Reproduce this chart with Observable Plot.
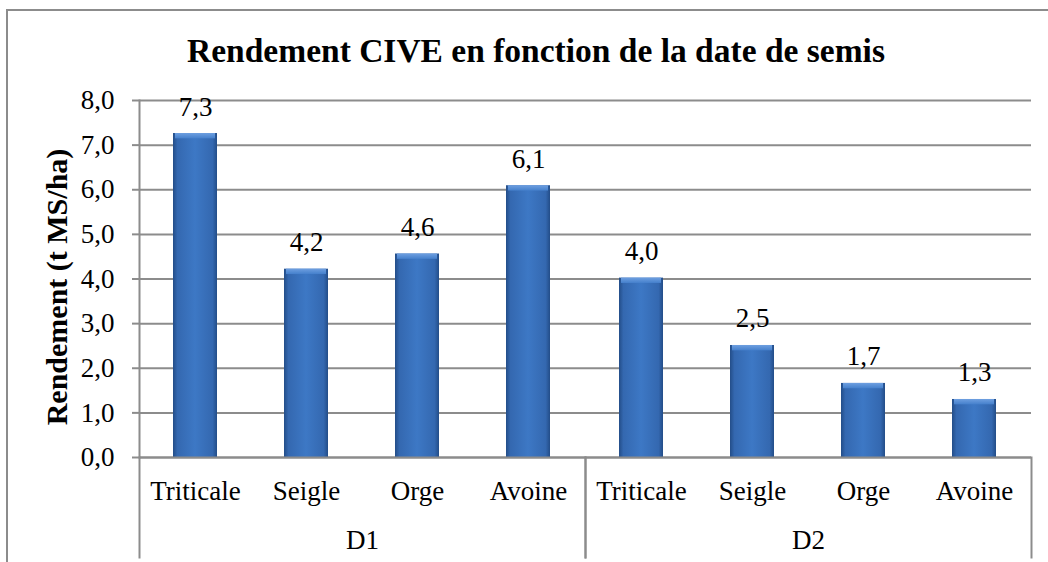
<!DOCTYPE html>
<html><head><meta charset="utf-8">
<script src="https://cdn.jsdelivr.net/npm/d3@7"></script>
<script src="https://cdn.jsdelivr.net/npm/@observablehq/plot@0.6"></script>
<style>
html,body{margin:0;padding:0;background:#fff;overflow:hidden;width:1048px;height:562px}
#wrap{position:relative;width:1048px;height:562px;overflow:hidden}
#border{position:absolute;left:6px;top:9px;width:1080px;height:620px;border:2px solid #8c8c8c;box-sizing:border-box}
#title{position:absolute;left:0;top:31px;width:1072px;text-align:center;font:bold 33.5px "Liberation Serif",serif;line-height:40px;white-space:nowrap;color:#000}
#ylabel{position:absolute;left:57px;top:287px;transform:translate(-50%,-50%) rotate(-90deg);font:bold 30px "Liberation Serif",serif;line-height:34px;white-space:nowrap;color:#000}
#chart{position:absolute;left:0;top:0}
</style></head><body>
<div id="wrap">
  <div id="border"></div>
  <div id="title">Rendement CIVE en fonction de la date de semis</div>
  <div id="ylabel">Rendement (t MS/ha)</div>
  <div id="chart"></div>
</div>
<script>
const groupNames = ["D1", "D2"];
const cropNames = ["Triticale", "Seigle", "Orge", "Avoine"];
const groups = ["D1", "D1", "D1", "D1", "D2", "D2", "D2", "D2"];
const crops = ["Triticale", "Seigle", "Orge", "Avoine", "Triticale", "Seigle", "Orge", "Avoine"];
const yields = [7.26, 4.22, 4.56, 6.09, 4.02, 2.51, 1.66, 1.30];
const yTicks = [0, 1, 2, 3, 4, 5, 6, 7, 8];

const data = crops.map((c, i) => ({group: groups[i], crop: c, value: yields[i]}));
const fmt = d => d.toFixed(1).replace(".", ",");
const grid = "#8c8c8c";

const plot = Plot.plot({
  width: 1048, height: 562,
  marginTop: 100, marginBottom: 105, marginLeft: 138, marginRight: 17,
  style: {fontFamily: '"Liberation Serif", serif', fontSize: "27px", color: "#000", background: "transparent", overflow: "visible"},
  fx: {domain: groupNames, padding: 0, label: null},
  x: {domain: cropNames, paddingInner: 0.6, paddingOuter: 0.3, label: null},
  y: {domain: [0, 8], label: null},
  marks: [
    Plot.gridY(yTicks, {stroke: grid, strokeOpacity: 1, strokeWidth: 2}),
    Plot.axisY(yTicks, {tickSize: 7, tickPadding: 18, tickFormat: fmt, stroke: grid, strokeWidth: 2, label: null}),
    Plot.axisX({tickSize: 0, tickPadding: 23, label: null}),
    Plot.axisFx({anchor: "bottom", tickSize: 0, tickPadding: 72, label: null}),
    Plot.frame({anchor: "left", facetAnchor: "left", stroke: grid, strokeWidth: 2}),
    Plot.frame({anchor: "left", insetTop: 357, insetBottom: -100, stroke: grid, strokeWidth: 2}),
    Plot.frame({anchor: "right", insetTop: 357, insetBottom: -100, stroke: grid, strokeWidth: 2}),
    Plot.barY(data, {fx: "group", x: "crop", y: "value", fill: "url(#barGrad)"}),
    Plot.barY(data, {fx: "group", x: "crop", y1: d => d.value - 0.12, y2: "value", fill: "url(#bevelGrad)", insetLeft: 2, insetRight: 2}),
    Plot.ruleY([0], {stroke: grid, strokeWidth: 2}),
    Plot.text(data, {fx: "group", x: "crop", y: "value", text: d => fmt(d.value), lineAnchor: "bottom", dy: -18, fill: "#000"})
  ]
});
plot.insertAdjacentHTML("afterbegin", `<defs>
<linearGradient id="barGrad" x1="0" x2="1" y1="0" y2="0">
<stop offset="0" stop-color="#234d88"/><stop offset="0.1" stop-color="#3468b0"/>
<stop offset="0.5" stop-color="#3d78c5"/><stop offset="0.9" stop-color="#3468b0"/>
<stop offset="1" stop-color="#234d88"/></linearGradient>
<linearGradient id="bevelGrad" x1="0" x2="0" y1="0" y2="1">
<stop offset="0" stop-color="#6e9fe0"/><stop offset="1" stop-color="#4580cc"/></linearGradient>
</defs>`);
document.getElementById("chart").appendChild(plot);
</script>
</body></html>
